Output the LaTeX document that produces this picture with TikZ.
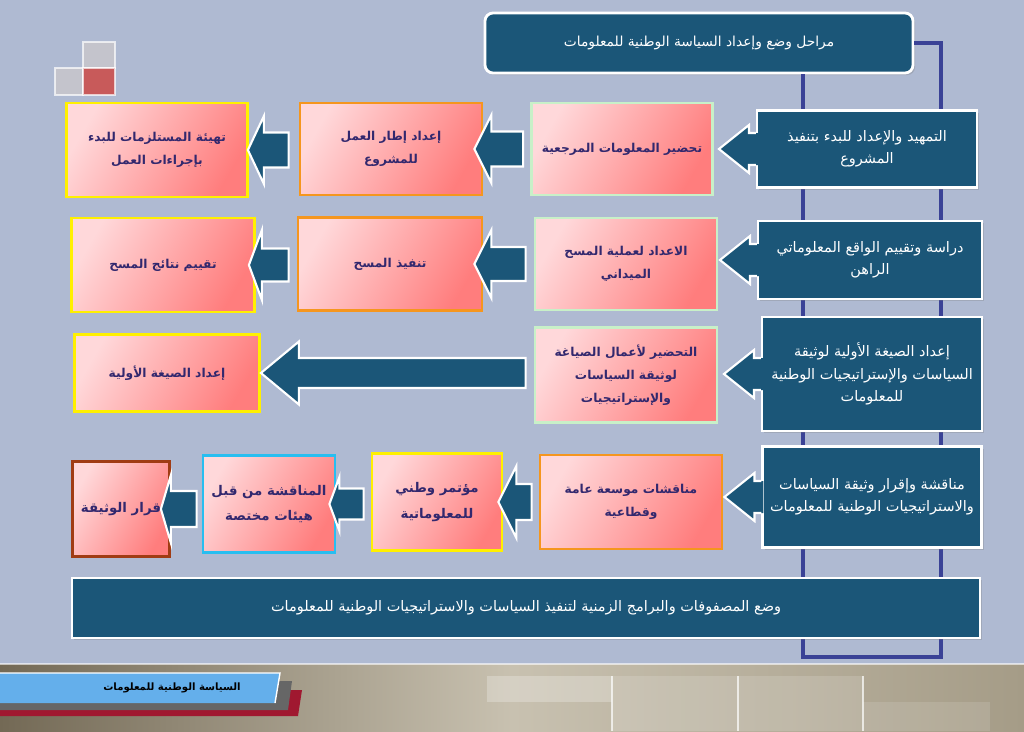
\documentclass[tikz,border=0pt]{standalone}
\usepackage{fontspec}
\newfontfamily\arabicfont[Script=Arabic]{DejaVu Sans}
\TeXXeTstate=1
\usetikzlibrary{positioning,calc,shadows}

\definecolor{slidebg}{RGB}{175,186,210}
\definecolor{navy}{RGB}{27,86,120}
\definecolor{frameblue}{RGB}{58,66,150}
\definecolor{pinkL}{RGB}{255,216,218}
\definecolor{pinkD}{RGB}{255,125,125}
\definecolor{pinktext}{RGB}{50,40,110}
\definecolor{bdgreen}{RGB}{200,240,200}
\definecolor{bdorange}{RGB}{245,150,30}
\definecolor{bdyellow}{RGB}{255,240,0}
\definecolor{bdcyan}{RGB}{40,190,240}
\definecolor{bdbrown}{RGB}{160,60,20}
\definecolor{bandL}{RGB}{115,105,85}
\definecolor{bandM}{RGB}{200,193,176}
\definecolor{bandR}{RGB}{165,156,135}
\definecolor{sqgrey}{RGB}{196,196,204}
\definecolor{sqred}{RGB}{200,90,90}
\definecolor{tabblue}{RGB}{100,175,235}
\definecolor{tabred}{RGB}{160,24,48}

\newlength\pxlen \setlength\pxlen{0.025cm}
\newcommand{\ar}[1]{\beginR #1\endR}

% block arrow: tail node, tip node, tail gap, tip overlap, head half, shaft half, head length
\newcommand{\blockarrow}[7]{%
  \draw[barrow] let \p1=(#1.west), \p2=(#2.east) in
    (\x2-#4*\pxlen,\y2)
    -- (\x2-#4*\pxlen+#7*\pxlen,\y2+#5*\pxlen)
    -- (\x2-#4*\pxlen+#7*\pxlen,\y2+#6*\pxlen)
    -- (\x1-#3*\pxlen,\y2+#6*\pxlen)
    -- (\x1-#3*\pxlen,\y2-#6*\pxlen)
    -- (\x2-#4*\pxlen+#7*\pxlen,\y2-#6*\pxlen)
    -- (\x2-#4*\pxlen+#7*\pxlen,\y2-#5*\pxlen)
    -- cycle;}

% pointer on the left side of a dark box
\newcommand{\callarrow}[1]{%
  \fill[navy] let \p1=(#1.west) in
    (\x1+2*\pxlen,\y1+16*\pxlen) -- (\x1-7*\pxlen,\y1+16*\pxlen)
    -- (\x1-7*\pxlen,\y1+24*\pxlen) -- (\x1-37*\pxlen,\y1)
    -- (\x1-7*\pxlen,\y1-24*\pxlen) -- (\x1-7*\pxlen,\y1-16*\pxlen)
    -- (\x1+2*\pxlen,\y1-16*\pxlen) -- cycle;
  \draw[white, line width=1.5pt, line join=miter] let \p1=(#1.west) in
    (\x1,\y1+16*\pxlen) -- (\x1-7*\pxlen,\y1+16*\pxlen)
    -- (\x1-7*\pxlen,\y1+24*\pxlen) -- (\x1-37*\pxlen,\y1)
    -- (\x1-7*\pxlen,\y1-24*\pxlen) -- (\x1-7*\pxlen,\y1-16*\pxlen)
    -- (\x1,\y1-16*\pxlen);}

\begin{document}
\begin{tikzpicture}[
  x=0.025cm, y=-0.025cm,
  sz/.style 2 args={minimum width=#1*0.025cm, minimum height=#2*0.025cm},
  pinkbox/.style={
    rectangle, line width=2pt,
    left color=pinkL, right color=pinkD, shading angle=60,
    align=center, inner sep=2pt, text=pinktext,
    font=\arabicfont\bfseries\fontsize{8.7}{16.5}\selectfont
  },
  bigtext/.style={font=\arabicfont\bfseries\fontsize{9.5}{18}\selectfont},
  darkbox/.style={
    rectangle, draw=white, line width=1.5pt, fill=navy,
    align=center, inner sep=2pt, text=white,
    font=\arabicfont\fontsize{10.3}{16}\selectfont,
    drop shadow={shadow xshift=1.5pt, shadow yshift=-1.5pt, opacity=0.3}
  },
  titlebox/.style={darkbox, rounded corners=0.2cm, line width=2pt,
    font=\arabicfont\fontsize{9.8}{16}\selectfont},
  barrow/.style={fill=navy, draw=white, line width=1.5pt, line join=miter},
  vline/.style={draw=frameblue, line width=3pt}
]

\useasboundingbox (0,0) rectangle (1024,731);
\fill[slidebg] (0,0) rectangle (1024,731);

% footer band
\shade[left color=bandL, right color=bandR, middle color=bandM] (0,664) rectangle (1024,731);
\draw[white, opacity=0.6, line width=1pt] (0,664) -- (1024,664);
\fill[white, opacity=0.25] (487,676) rectangle (612,702);
\fill[white, opacity=0.15] (612,676) rectangle (863,731);
\fill[white, opacity=0.12] (863,702) rectangle (990,731);
\foreach \xx in {612,738,863}
  \draw[white, opacity=0.7, line width=1pt] (\xx,676) -- (\xx,731);
\fill[tabred] (0,690) -- (302,690) -- (298,716) -- (0,716) -- cycle;
\fill[black!60] (0,681) -- (292,681) -- (288,710) -- (0,710) -- cycle;
\fill[tabblue] (0,673) -- (280,673) -- (275,703) -- (0,703) -- cycle;
\draw[white, line width=1pt] (0,673) -- (280,673) -- (275,703);
\node[font=\arabicfont\bfseries\fontsize{7.2}{8}\selectfont] (tab) at (172,688) {\ar{السياسة الوطنية للمعلومات}};

% corner squares
\begin{scope}[draw=white, line width=1pt, draw opacity=0.7]
  \filldraw[fill=sqgrey] (83,42) rectangle (115,68);
  \filldraw[fill=sqgrey] (55,68) rectangle (83,95);
  \filldraw[fill=sqred] (83,68) rectangle (115,95);
\end{scope}

\node[titlebox, sz={428}{60}] (title) at (699,43) {\ar{مراحل وضع وإعداد السياسة الوطنية للمعلومات}};

\draw[vline] (title.east) -- (941,43) -- (941,657) -- (803,657) -- (803,0 |- title.south);

% row 1
\node[darkbox, sz={220}{77}] (start) at (867,149) {\ar{التمهيد والإعداد للبدء بتنفيذ}\\\ar{المشروع}};
\node[pinkbox, draw=bdgreen, sz={181}{92}] (refinfo) at (622,149) {\ar{تحضير المعلومات المرجعية}};
\node[pinkbox, draw=bdorange, sz={182}{92}] (frame) at (391,149) {\ar{إعداد إطار العمل}\\\ar{للمشروع}};
\node[pinkbox, draw=bdyellow, sz={181}{94}] (needs) at (157,150) {\ar{تهيئة المستلزمات للبدء}\\\ar{بإجراءات العمل}};

% row 2
\node[darkbox, sz={224}{78}] (study) at (870,260) {\ar{دراسة وتقييم الواقع المعلوماتي}\\\ar{الراهن}};
\node[pinkbox, draw=bdgreen, sz={182}{92}] (fieldprep) at (626,264) {\ar{الاعداد لعملية المسح}\\\ar{الميداني}};
\node[pinkbox, draw=bdorange, sz={184}{93}] (survey) at (390,264) {\ar{تنفيذ المسح}};
\node[pinkbox, draw=bdyellow, sz={183}{94}] (results) at (163,265) {\ar{تقييم نتائج المسح}};

% row 3
\node[darkbox, sz={220}{114}] (draft) at (872,374) {\ar{إعداد الصيغة الأولية لوثيقة}\\\ar{السياسات والإستراتيجيات الوطنية}\\\ar{للمعلومات}};
\node[pinkbox, draw=bdgreen, sz={182}{95}] (draftprep) at (626,375) {\ar{التحضير لأعمال الصياغة}\\\ar{لوثيقة السياسات}\\\ar{والإستراتيجيات}};
\node[pinkbox, draw=bdyellow, sz={185}{77}] (firstdraft) at (167,373) {\ar{إعداد الصيغة الأولية}};

% row 4
\node[darkbox, sz={219}{101}] (approve) at (872,497) {\ar{مناقشة وإقرار وثيقة السياسات}\\\ar{والاستراتيجيات الوطنية للمعلومات}};
\node[pinkbox, draw=bdorange, sz={182}{94}] (debate) at (631,502) {\ar{مناقشات موسعة عامة}\\\ar{وقطاعية}};
\node[pinkbox, bigtext, draw=bdyellow, sz={130}{97}] (conf) at (437,502) {\ar{مؤتمر وطني}\\\ar{للمعلوماتية}};
\node[pinkbox, bigtext, draw=bdcyan, sz={132}{97}] (panel) at (269,504) {\ar{المناقشة من قبل}\\\ar{هيئات مختصة}};
\node[pinkbox, bigtext, draw=bdbrown, sz={97}{95}] (decision) at (121,509) {\ar{قرار الوثيقة}};

\node[darkbox, sz={908}{60}] (plan) at (526,608) {\ar{وضع المصفوفات والبرامج الزمنية لتنفيذ السياسات والاستراتيجيات الوطنية للمعلومات}};

\callarrow{start}
\callarrow{study}
\callarrow{draft}
\callarrow{approve}

\blockarrow{refinfo}{frame}{7}{9}{34}{17.5}{17}
\blockarrow{frame}{needs}{10}{1}{34}{17.5}{16}
\blockarrow{fieldprep}{survey}{8}{9}{34}{17}{17}
\blockarrow{survey}{results}{8}{7}{35}{16.5}{13}
\blockarrow{draftprep}{firstdraft}{8}{0}{31.5}{15}{38}
\blockarrow{debate}{conf}{7}{5}{36}{18}{18}
\blockarrow{conf}{panel}{7}{7}{27}{15.5}{10}
\blockarrow{panel}{decision}{5}{10}{34}{18}{10}

\end{tikzpicture}
\end{document}
